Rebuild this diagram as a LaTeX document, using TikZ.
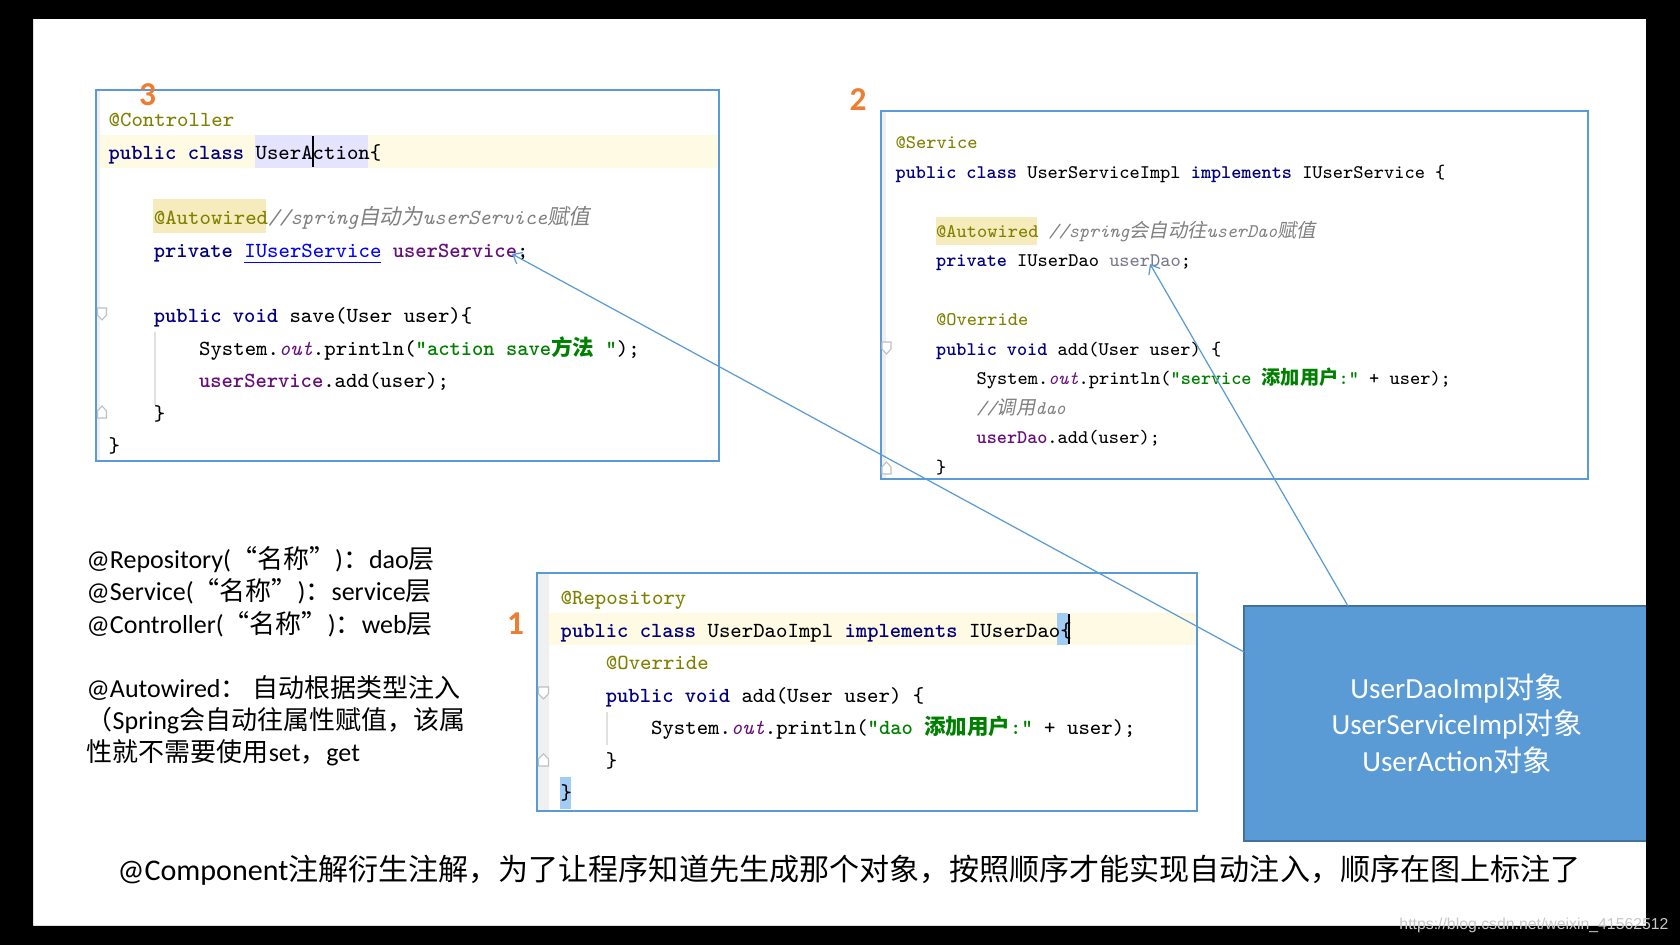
\documentclass[tikz,border=0pt]{standalone}
\usepackage{fontspec}
\setmainfont{Carlito}
\newfontfamily\zhfont{Noto Sans CJK SC}
\newfontfamily\zhitfont{Noto Sans CJK SC}[FakeSlant=0.2]
\newfontfamily\wmfont{Liberation Sans}
\usetikzlibrary{arrows.meta}
\definecolor{kwblue}{HTML}{000080}
\definecolor{annol}{HTML}{808000}
\definecolor{cmtgray}{HTML}{808080}
\definecolor{strgreen}{HTML}{008000}
\definecolor{fldpurple}{HTML}{660E7A}
\definecolor{linkblue}{HTML}{0000FF}
\definecolor{framebl}{HTML}{5B9BD5}
\definecolor{objedge}{HTML}{41719C}
\definecolor{nrorange}{HTML}{ED7D31}
\definecolor{rowcream}{HTML}{FFFAE3}
\definecolor{idlav}{HTML}{E4E4FF}
\definecolor{annbg}{HTML}{F6EBBC}
\definecolor{bracebl}{HTML}{A3CCF5}
\definecolor{gutter}{HTML}{F0F0F0}
\definecolor{unused}{HTML}{7A7A8C}
\definecolor{wmgray}{HTML}{C8C8C8}
\newcommand{\zh}[1]{{\zhfont #1}}
\newcommand{\zhit}[1]{{\zhitfont #1}}
\newcommand{\jkw}[1]{\textcolor{kwblue}{\bfseries #1}}
\newcommand{\jann}[1]{\textcolor{annol}{#1}}
\newcommand{\jcmt}[1]{\textcolor{cmtgray}{\itshape #1}}
\newcommand{\jstr}[1]{\textcolor{strgreen}{\bfseries #1}}
\newcommand{\jfld}[1]{\textcolor{fldpurple}{\bfseries #1}}
\newcommand{\jout}[1]{\textcolor{fldpurple}{\itshape #1}}
\newcommand{\jlink}[1]{\textcolor{linkblue}{\underline{#1}}}
\begin{document}
\begin{tikzpicture}[
	code/.style={anchor=base west, inner sep=0pt, font=\ttfamily\fontsize{6.12}{7.3}\selectfont},
	codesm/.style={code, font=\ttfamily\fontsize{5.48}{6.6}\selectfont},
	codebox/.style={shape=rectangle, draw=framebl, line width=0.4pt, inner sep=0pt, outer sep=0pt},
	nr/.style={text=nrorange, font=\bfseries\fontsize{9.5}{10}\selectfont, inner sep=0pt},
	note/.style={anchor=base west, inner sep=0pt, font=\fontsize{7.4}{8.9}\selectfont},
	objbox/.style={shape=rectangle, fill=framebl, draw=objedge, line width=0.6pt, inner sep=0pt, outer sep=0pt, text=white, align=center, font=\fontsize{8.3}{10.4}\selectfont},
	wire/.style={draw=framebl, line width=0.35pt, -{Straight Barb[length=0.8mm, width=1.3mm]}},
	fold/.style={draw=black!25, fill=white, line width=0.3pt}]
	\useasboundingbox (0,0) rectangle (16.8,9.45);
	\fill[white] (0.33,0.19) rectangle (16.46,9.26);
	% Controller box (3):
	\fill[gutter] (0.96,4.84) rectangle (1.00,8.55);
	\fill[rowcream] (1.00,7.77) rectangle (7.19,8.10);
	\fill[idlav] (2.548,7.77) rectangle (3.677,8.10);
	\fill[annbg] (1.532,7.12) rectangle (2.661,7.46);
	\draw[line width=0.5pt] (3.13,7.78) -- (3.13,8.09);
	\draw[black!12] (1.55,6.13) -- (1.55,5.40);
	\node[codebox, minimum width=6.23cm, minimum height=3.71cm] (box3) at (4.075,6.695) {};
	\draw[fold] (0.975,6.37) -- ++(0.09,0) -- ++(0,-0.07) -- ++(-0.045,-0.05) -- ++(-0.045,0.05) -- cycle;
	\draw[fold] (0.975,5.27) -- ++(0.09,0) -- ++(0,0.07) -- ++(-0.045,0.05) -- ++(-0.045,-0.05) -- cycle;
	\node[code] (ctrl1) at (1.08,8.18) {\jann{@Controller}};
	\node[code] (ctrl2) at (1.08,7.854) {\jkw{public class} UserAction\{};
	\node[code] (ctrl3) at (1.532,7.202) {\jann{@Autowired}\jcmt{//spring\zhit{自动为}userService\zhit{赋值}}};
	\node[code] (ctrl4) at (1.532,6.876) {\jkw{private} \jlink{IUserService} \jfld{userService};};
	\node[code] (ctrl5) at (1.532,6.224) {\jkw{public void} save(User user)\{};
	\node[code] (ctrl6) at (1.984,5.898) {System.\jout{out}.println(\jstr{"action save\zh{方法} "});};
	\node[code] (ctrl7) at (1.984,5.572) {\jfld{userService}.add(user);};
	\node[code] (ctrl8) at (1.532,5.246) {\}};
	\node[code] (ctrl9) at (1.08,4.92) {\}};
	% Service box (2):
	\fill[gutter] (8.81,4.66) rectangle (8.86,8.34);
	\fill[annbg] (9.355,7.00) rectangle (10.367,7.28);
	\node[codebox, minimum width=7.07cm, minimum height=3.68cm] (box2) at (12.345,6.50) {};
	\draw[fold] (8.82,6.03) -- ++(0.09,0) -- ++(0,-0.07) -- ++(-0.045,-0.05) -- ++(-0.045,0.05) -- cycle;
	\draw[fold] (8.82,4.71) -- ++(0.09,0) -- ++(0,0.07) -- ++(-0.045,0.05) -- ++(-0.045,-0.05) -- cycle;
	\node[codesm] (svc1) at (8.95,7.96) {\jann{@Service}};
	\node[codesm] (svc2) at (8.95,7.665) {\jkw{public class} UserServiceImpl \jkw{implements} IUserService \{};
	\node[codesm] (svc3) at (9.355,7.075) {\jann{@Autowired} \jcmt{//spring\zhit{会自动往}userDao\zhit{赋值}}};
	\node[codesm] (svc4) at (9.355,6.78) {\jkw{private} IUserDao \textcolor{unused}{userDao};};
	\node[codesm] (svc5) at (9.355,6.19) {\jann{@Override}};
	\node[codesm] (svc6) at (9.355,5.895) {\jkw{public void} add(User user) \{};
	\node[codesm] (svc7) at (9.76,5.60) {System.\jout{out}.println(\jstr{"service \zh{添加用户}:"} + user);};
	\node[codesm] (svc8) at (9.76,5.305) {\jcmt{//\zhit{调用}dao}};
	\node[codesm] (svc9) at (9.76,5.01) {\jfld{userDao}.add(user);};
	\node[codesm] (svc10) at (9.355,4.715) {\}};
	% Dao box (1):
	\fill[gutter] (5.37,1.34) rectangle (5.49,3.72);
	\fill[rowcream] (5.49,3.00) rectangle (11.97,3.32);
	\fill[bracebl] (10.568,3.00) rectangle (10.681,3.32);
	\draw[line width=0.5pt] (10.69,3.01) -- (10.69,3.31);
	\fill[bracebl] (5.60,1.36) rectangle (5.713,1.68);
	\draw[black!12] (6.07,2.33) -- (6.07,2.00);
	\node[codebox, minimum width=6.60cm, minimum height=2.38cm] (box1) at (8.67,2.53) {};
	\draw[fold] (5.385,2.58) -- ++(0.1,0) -- ++(0,-0.07) -- ++(-0.05,-0.05) -- ++(-0.05,0.05) -- cycle;
	\draw[fold] (5.385,1.79) -- ++(0.1,0) -- ++(0,0.07) -- ++(-0.05,0.05) -- ++(-0.05,-0.05) -- cycle;
	\node[code] (dao1) at (5.60,3.40) {\jann{@Repository}};
	\node[code] (dao2) at (5.60,3.075) {\jkw{public class} UserDaoImpl \jkw{implements} IUserDao\{};
	\node[code] (dao3) at (6.052,2.75) {\jann{@Override}};
	\node[code] (dao4) at (6.052,2.425) {\jkw{public void} add(User user) \{};
	\node[code] (dao5) at (6.504,2.10) {System.\jout{out}.println(\jstr{"dao \zh{添加用户}:"} + user);};
	\node[code] (dao6) at (6.052,1.775) {\}};
	\node[code] (dao7) at (5.60,1.45) {\}};
	% Order numbers:
	\node[nr] (n3) at (1.475,8.50) {3};
	\node[nr] (n2) at (8.58,8.45) {2};
	\node[nr] (n1) at (5.155,3.21) {1};
	% Notes:
	\node[note] (ann1) at (0.86,3.76) {@Repository(\zh{“名称”})\zh{：}dao\zh{层}};
	\node[note] (ann2) at (0.86,3.44) {@Service(\zh{“名称”})\zh{：}service\zh{层}};
	\node[note] (ann3) at (0.86,3.11) {@Controller(\zh{“名称”})\zh{：}web\zh{层}};
	\node[note] (ann4) at (0.86,2.47) {@Autowired\zh{：}\ \zh{自动根据类型注入}};
	\node[note] (ann5) at (0.86,2.15) {\zh{（}Spring\zh{会自动往属性赋值，该属}};
	\node[note] (ann6) at (0.86,1.83) {\zh{性就不需要使用}set\zh{，}get};
	\node[note, font=\fontsize{8.55}{10.5}\selectfont] (foot) at (1.17,0.64) {@Component\zh{注解衍生注解，为了让程序知道先生成那个对象，按照顺序才能实现自动注入，顺序在图上标注了}};
	% Objects and wires:
	\node[objbox, minimum width=4.26cm, minimum height=2.35cm] (obj) at (14.57,2.215) {UserDaoImpl\zh{对象}\\UserServiceImpl\zh{对象}\\UserAction\zh{对象}};
	\coordinate (usvc) at (5.12,6.91);
	\coordinate (udao) at (11.50,6.81);
	\draw[wire] ([yshift=-0.46cm]obj.north west) -- (usvc);
	\draw[wire] ([xshift=1.04cm]obj.north west) -- (udao);
	% Frame:
	\fill[black, even odd rule] (0,0) rectangle (16.8,9.45) (0.33,0.19) rectangle (16.46,9.26);
	\node[text=wmgray, font=\wmfont\fontsize{4.5}{5}\selectfont, inner sep=0pt] (wm) at (15.34,0.20) {https://blog.csdn.net/weixin\_41562512};
\end{tikzpicture}
\end{document}
